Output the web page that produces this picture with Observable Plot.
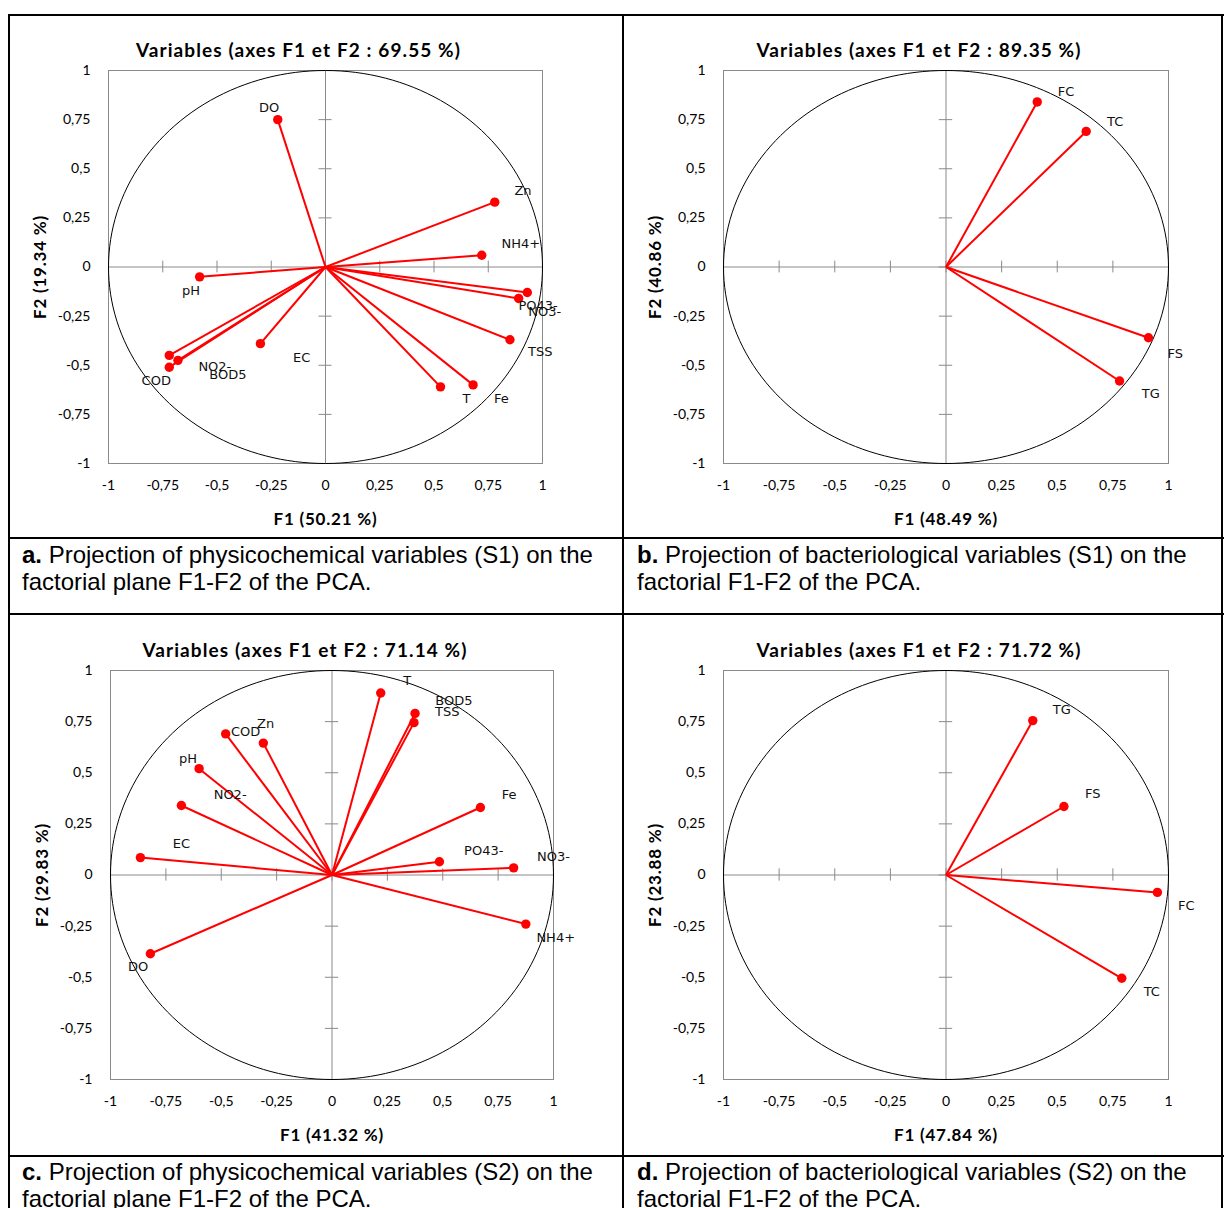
<!DOCTYPE html>
<html><head><meta charset="utf-8">
<script src="https://cdn.jsdelivr.net/npm/d3@7"></script>
<script src="https://cdn.jsdelivr.net/npm/@observablehq/plot@0.6"></script>
<style>
html,body{margin:0;padding:0;background:#fff;}
#page{position:relative;width:1224px;height:1208px;overflow:hidden;background:#fff;}
.ln{position:absolute;background:#000;}
.chart{position:absolute;}
.cap{position:absolute;font-family:"Liberation Sans",Arial,sans-serif;font-size:24px;line-height:27px;color:#000;white-space:nowrap;}
</style>
</head><body>
<div id="page"></div>
<script>
// ---------- data ----------
const tickValues = [-1, -0.75, -0.5, -0.25, 0, 0.25, 0.5, 0.75, 1];

// a. physicochemical S1
const namesA = ["DO","Zn","NH4+","PO43-","NO3-","TSS","Fe","T","pH","EC","NO2-","BOD5","COD"];
const f1A = [-0.22, 0.78, 0.72, 0.93, 0.89, 0.85, 0.68, 0.53, -0.58, -0.30, -0.72, -0.68, -0.72];
const f2A = [0.75, 0.33, 0.06, -0.13, -0.16, -0.37, -0.60, -0.61, -0.05, -0.39, -0.45, -0.475, -0.51];
const labF1A = [-0.26, 0.91, 0.90, 0.98, 1.01, 0.99, 0.81, 0.65, -0.62, -0.11, -0.51, -0.45, -0.78];
const labF2A = [0.81, 0.39, 0.12, -0.20, -0.23, -0.43, -0.67, -0.67, -0.12, -0.46, -0.51, -0.55, -0.58];

// b. bacteriological S1
const namesB = ["FC","TC","FS","TG"];
const f1B = [0.41, 0.63, 0.91, 0.78];
const f2B = [0.84, 0.69, -0.36, -0.58];
const labF1B = [0.54, 0.76, 1.03, 0.92];
const labF2B = [0.89, 0.74, -0.44, -0.645];

// c. physicochemical S2
const namesC = ["COD","Zn","pH","NO2-","EC","T","BOD5","TSS","Fe","PO43-","NO3-","NH4+","DO"];
const f1C = [-0.48, -0.31, -0.60, -0.68, -0.865, 0.22, 0.375, 0.37, 0.67, 0.485, 0.82, 0.875, -0.82];
const f2C = [0.69, 0.645, 0.52, 0.34, 0.085, 0.89, 0.79, 0.745, 0.33, 0.065, 0.035, -0.24, -0.385];
const labF1C = [-0.39, -0.30, -0.65, -0.46, -0.68, 0.34, 0.55, 0.52, 0.80, 0.685, 1.0, 1.01, -0.875];
const labF2C = [0.70, 0.74, 0.57, 0.39, 0.15, 0.95, 0.85, 0.80, 0.39, 0.12, 0.09, -0.305, -0.45];

// d. bacteriological S2
const namesD = ["TG","FS","FC","TC"];
const f1D = [0.39, 0.53, 0.95, 0.79];
const f2D = [0.755, 0.335, -0.085, -0.505];
const labF1D = [0.52, 0.66, 1.08, 0.925];
const labF2D = [0.81, 0.395, -0.15, -0.57];

const titles = ["Variables (axes F1 et F2 : 69.55 %)","Variables (axes F1 et F2 : 89.35 %)","Variables (axes F1 et F2 : 71.14 %)","Variables (axes F1 et F2 : 71.72 %)"];
const xLabels = ["F1 (50.21 %)","F1 (48.49 %)","F1 (41.32 %)","F1 (47.84 %)"];
const yLabels = ["F2 (19.34 %)","F2 (40.86 %)","F2 (29.83 %)","F2 (23.88 %)"];
const captionBold = ["a.","b.","c.","d."];
const captionLines = [
  ["Projection of physicochemical variables (S1) on the","factorial plane F1-F2 of the PCA."],
  ["Projection of bacteriological variables (S1) on the","factorial F1-F2 of the PCA."],
  ["Projection of physicochemical variables (S2) on the","factorial plane F1-F2 of the PCA."],
  ["Projection of bacteriological variables (S2) on the","factorial F1-F2 of the PCA."]
];

// ---------- helpers ----------
const rows = (n, a, b, la, lb) => n.map((name, i) => ({name, f1: a[i], f2: b[i], lx: la[i], ly: lb[i]}));
const fmt = d => String(d).replace(".", ",");
const circle = d3.range(0, 361, 2).map(a => ({x: Math.cos(a * Math.PI / 180), y: Math.sin(a * Math.PI / 180)}));
const gray = "#8a8a8a";

function chart(data, i, w, h, m) {
  const svg = Plot.plot({
    width: w, height: h,
    marginLeft: m[0], marginRight: m[1], marginTop: m[2], marginBottom: m[3],
    x: {domain: [-1, 1], label: null},
    y: {domain: [-1, 1], label: null},
    style: {fontFamily: "Lato, sans-serif", fontSize: "14px", background: "transparent", overflow: "visible", color: "#000"},
    marks: [
      Plot.frame({stroke: gray}),
      Plot.ruleX([0], {stroke: gray}),
      Plot.ruleY([0], {stroke: gray}),
      Plot.ruleX(tickValues, {x: d => d, y1: -0.03, y2: 0.03, stroke: gray}),
      Plot.ruleY(tickValues, {y: d => d, x1: -0.03, x2: 0.03, stroke: gray}),
      Plot.line(circle, {x: "x", y: "y", stroke: "#000", strokeWidth: 1}),
      Plot.axisX(tickValues, {anchor: "bottom", tickSize: 0, tickPadding: 17, tickFormat: fmt, fill: "#000", fontSize: 14}),
      Plot.axisY(tickValues, {anchor: "left", tickSize: 0, tickPadding: 18, tickFormat: fmt, fill: "#000", fontSize: 14}),
      Plot.link(data, {x1: 0, y1: 0, x2: "f1", y2: "f2", stroke: "#ff0000", strokeWidth: 2}),
      Plot.dot(data, {x: "f1", y: "f2", r: 4.7, fill: "#ff0000"}),
      Plot.text(data, {x: "lx", y: "ly", text: "name", fontFamily: "DejaVu Sans, sans-serif", fontSize: 13, fill: "#111"}),
      Plot.text([titles[i]], {text: d => d, frameAnchor: "top", lineAnchor: "middle", textAnchor: "middle", dy: -20, dx: -27, fontWeight: "bold", fontSize: 19, fill: "#000"}),
      Plot.text([xLabels[i]], {text: d => d, frameAnchor: "bottom", lineAnchor: "middle", textAnchor: "middle", dy: 56, fontWeight: "bold", fontSize: 17, fill: "#000"}),
      Plot.text([yLabels[i]], {text: d => d, frameAnchor: "left", lineAnchor: "middle", textAnchor: "middle", dx: -68, rotate: -90, fontWeight: "bold", fontSize: 17, fill: "#000"})
    ]
  });
  svg.querySelectorAll("text").forEach(t => {
    const s = t.textContent;
    if (titles.includes(s)) t.style.letterSpacing = "1.1px";
    else if (xLabels.includes(s) || yLabels.includes(s)) t.style.letterSpacing = "0.8px";
  });
  return svg;
}

const page = document.getElementById("page");
function place(el, left, top) {
  const d = document.createElement("div");
  d.className = "chart";
  d.style.left = left + "px"; d.style.top = top + "px";
  d.appendChild(el);
  page.appendChild(d);
}

place(chart(rows(namesA, f1A, f2A, labF1A, labF2A), 0, 612, 520, [98, 80, 53, 74]), 10, 17);
place(chart(rows(namesB, f1B, f2B, labF1B, labF2B), 1, 597, 520, [98, 54, 53, 74]), 625, 17);
place(chart(rows(namesC, f1C, f2C, labF1C, labF2C), 2, 612, 539, [100, 69, 54, 76]), 10, 616);
place(chart(rows(namesD, f1D, f2D, labF1D, labF2D), 3, 597, 539, [98, 54, 54, 76]), 625, 616);

// table lines
const lines = [
  [8, 14, 1216, 2], [8, 14, 2, 1194], [622, 14, 2, 1194], [1221, 14, 2, 1194],
  [8, 537, 1216, 2], [8, 613, 1216, 2], [8, 1155, 1216, 2]
];
for (const [l, t, w, h] of lines) {
  const d = document.createElement("div");
  d.className = "ln";
  Object.assign(d.style, {left: l + "px", top: t + "px", width: w + "px", height: h + "px"});
  page.appendChild(d);
}

// captions
const capPos = [[22, 541], [637, 541], [22, 1158], [637, 1158]];
capPos.forEach(([l, t], i) => {
  const d = document.createElement("div");
  d.className = "cap";
  d.style.left = l + "px"; d.style.top = t + "px";
  const b = document.createElement("b");
  b.textContent = captionBold[i];
  d.appendChild(b);
  d.appendChild(document.createTextNode(" " + captionLines[i][0]));
  d.appendChild(document.createElement("br"));
  d.appendChild(document.createTextNode(captionLines[i][1]));
  page.appendChild(d);
});
</script>
</body></html>
